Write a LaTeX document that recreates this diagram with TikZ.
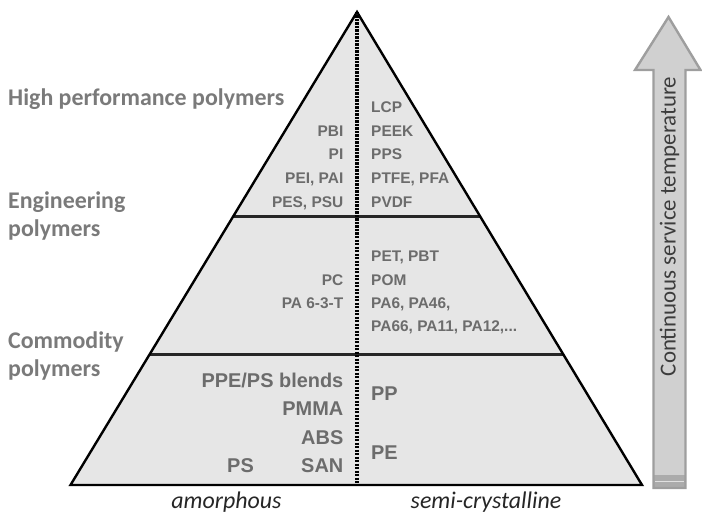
\documentclass[tikz,border=0pt]{standalone}
\usepackage{fontspec}
\setmainfont{Carlito}
\newfontfamily\pyrfont{Liberation Sans}
\usetikzlibrary{calc}
\definecolor{pyrfill}{HTML}{E6E6E6}
\definecolor{pyrtext}{HTML}{6C6C6C}
\definecolor{tiertext}{HTML}{7A7A7A}
\definecolor{arrowfill}{HTML}{D0D0D0}
\definecolor{arrowline}{HTML}{9E9E9E}
\definecolor{arrowbase}{HTML}{ABABAB}
\definecolor{arrowtext}{HTML}{3C3C3C}
\tikzset{
  tier/.style={font=\bfseries\fontsize{24}{28.5}\selectfont, text=tiertext,
    anchor=base west, inner sep=0pt, align=left},
  polyL/.style={font=\pyrfont\bfseries\fontsize{15.5}{18}\selectfont, text=pyrtext,
    anchor=base east, inner sep=0pt},
  polyR/.style={font=\pyrfont\bfseries\fontsize{15.5}{18}\selectfont, text=pyrtext,
    anchor=base west, inner sep=0pt},
  bigL/.style={polyL, font=\pyrfont\bfseries\fontsize{20}{24}\selectfont},
  bigR/.style={polyR, font=\pyrfont\bfseries\fontsize{20}{24}\selectfont},
  axislabel/.style={font=\itshape\fontsize{24}{28}\selectfont, text=black!85,
    anchor=base, inner sep=0pt},
  divider/.style={line width=2.6bp, draw=black!85},
}
\begin{document}
\begin{tikzpicture}[x=1bp, y=-1bp]
\useasboundingbox (0,0) rectangle (702,515);

% pyramid corners
\coordinate (apex) at (357,12);
\coordinate (bl) at (70.5,485);
\coordinate (br) at (642,485);
\coordinate (axisbot) at (357,485);

% tier boundaries on both flanks
\coordinate (l1) at ($(apex)!0.4328!(bl)$);
\coordinate (r1) at ($(apex)!0.4328!(br)$);
\coordinate (l2) at ($(apex)!0.7241!(bl)$);
\coordinate (r2) at ($(apex)!0.7241!(br)$);

\fill[pyrfill] (apex) -- (bl) -- (br) -- cycle;
\draw[divider] (l1) -- (r1);
\draw[divider] (l2) -- (r2);
\draw[black, line width=2.4bp, line join=miter] (apex) -- (bl) -- (br) -- cycle;
\draw[black, line width=3.3bp, dash pattern=on 2.2bp off 1.3bp] (apex) -- (axisbot);

% tier names
\node[tier] (hp) at (8,106) {High performance polymers};
\node[tier] (eng) at (8,236.7) {Engineering\\polymers};
\node[tier] (com) at (8,376.7) {Commodity\\polymers};

% high performance tier
\node[polyR] (lcp) at (371,112.5) {LCP};
\node[polyL] (pbi) at (343.5,136.5) {PBI};
\node[polyR] (peek) at (371,136.5) {PEEK};
\node[polyL] (pi) at (343.5,159.5) {PI};
\node[polyR] (pps) at (371,159.5) {PPS};
\node[polyL] (pei) at (343.5,183.5) {PEI, PAI};
\node[polyR] (ptfe) at (371,183.5) {PTFE, PFA};
\node[polyL] (pes) at (343.5,207.5) {PES, PSU};
\node[polyR] (pvdf) at (371,207.5) {PVDF};

% engineering tier
\node[polyR] (pet) at (371,261.5) {PET, PBT};
\node[polyL] (pc) at (343.5,285.5) {PC};
\node[polyR] (pom) at (371,285.5) {POM};
\node[polyL] (pa63t) at (343.5,308.5) {PA 6-3-T};
\node[polyR] (pa6) at (371,308.5) {PA6, PA46,};
\node[polyR] (pa66) at (371,331.5) {PA66, PA11, PA12,...};

% commodity tier
\node[bigL] (ppe) at (343.5,387.2) {PPE/PS blends};
\node[bigL] (pmma) at (343.5,415.2) {PMMA};
\node[bigL] (abs) at (343.5,444.2) {ABS};
\node[bigL] (san) at (343.5,472.2) {SAN};
\node[bigL] (ps) at (254,472.2) {PS};
\node[bigR] (pp) at (371,400.2) {PP};
\node[bigR] (pe) at (371,459.2) {PE};

% structure labels under the base
\node[axislabel] (amorph) at (226.5,508) {amorphous};
\node[axislabel] (semi) at (486,508) {semi-crystalline};

% temperature arrow
\fill[arrowfill] (668.5,17) -- (700.5,70) -- (685.5,70) -- (685.5,488)
  -- (653.5,488) -- (653.5,70) -- (635,70) -- cycle;
\fill[arrowbase] (653.5,475) rectangle (685.5,488);
\draw[white!88!black, line width=1bp] (655,481) -- (684,481);
\draw[arrowline, line width=2.4bp, line join=miter]
  (668.5,17) -- (700.5,70) -- (685.5,70) -- (685.5,488)
  -- (653.5,488) -- (653.5,70) -- (635,70) -- cycle;
\node[rotate=90, anchor=base, inner sep=0pt, text=arrowtext,
  font=\fontsize{23}{27}\selectfont] (temp) at (675.5,226.5)
  {Continuous service temperature};
\end{tikzpicture}
\end{document}
